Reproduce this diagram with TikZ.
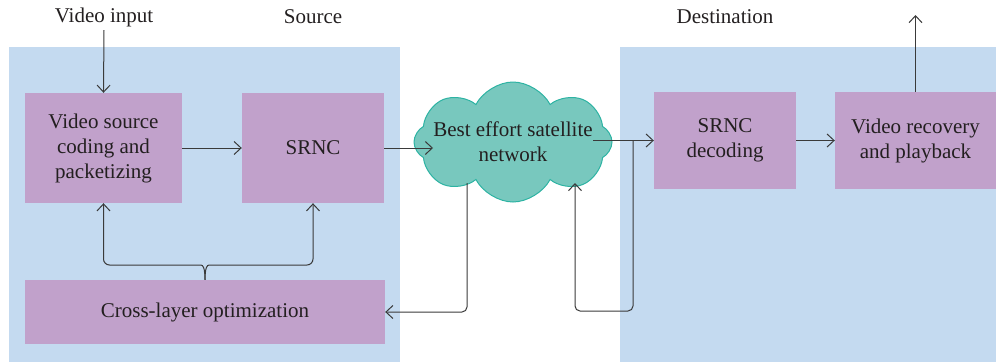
\documentclass[tikz,border=0pt]{standalone}
\usepackage{fontspec}
\setmainfont{Liberation Serif}
\usetikzlibrary{shapes.symbols,arrows.meta}
\definecolor{bgblue}{HTML}{C4DAF0}
\definecolor{boxpurple}{HTML}{C1A1CB}
\definecolor{cloudfill}{HTML}{78C8BE}
\definecolor{cloudline}{HTML}{2DB3A3}
\definecolor{linec}{HTML}{3A3A3A}
\definecolor{textc}{HTML}{231F20}
\begin{document}
\begin{tikzpicture}[x=1pt,y=-1pt,
  every node/.style={font=\fontsize{21}{25}\selectfont, text=textc},
  box/.style={fill=boxpurple, inner sep=0pt, align=center},
  arr/.style={draw=linec, line width=1pt, -{Straight Barb[length=7pt,width=13pt]}},
  cloudbox/.style={cloud, cloud puffs=8, cloud puff arc=125, aspect=1.65, fill=cloudfill, draw=cloudline, line width=1pt, inner sep=0pt, minimum width=198pt, minimum height=120pt},
]
\useasboundingbox (0,0) rectangle (996,362);
\fill[bgblue] (9,47) rectangle (400,362);
\fill[bgblue] (620,47) rectangle (996,362);

\node (vin) at (104,17) {Video input};
\node (src) at (313,17) {Source};
\node (dst) at (725,17) {Destination};

\node[box, minimum width=157pt, minimum height=110pt] (A) at (103.5,148) {Video source\\coding and\\packetizing};
\node[box, minimum width=142pt, minimum height=110pt] (S) at (313,148) {SRNC};
\node[box, minimum width=360pt, minimum height=64pt] (X) at (205,312) {Cross-layer optimization};
\node[box, minimum width=142pt, minimum height=97pt] (D) at (725,140.5) {SRNC\\decoding};
\node[box, minimum width=161pt, minimum height=97pt] (R) at (915.5,140.5) {Video recovery\\and playback};
\node[cloudbox] (C) at (513,142) {};
\node[align=center, inner sep=0pt] (CT) at (C.center) {Best effort satellite\\network};

\coordinate (bl) at (103.5,265);
\coordinate (br) at (313,265);
\coordinate (cin) at (433,148);
\coordinate (cout) at (593,140.5);
\coordinate (fb) at (633,140.5);
\coordinate (fbc) at (633,311);
\coordinate (fbin) at (575,183);
\coordinate (cdown) at (467,183);
\coordinate (vout) at (915.5,15);

\draw[arr] (vin.south) -- (A.north);
\draw[arr] (A.east) -- (S.west);
\draw[arr, rounded corners=6] (X.north) .. controls (205,268) and (203,265) .. (195,265) -- (bl) -- (A.south);
\draw[arr, rounded corners=6] (X.north) .. controls (205,268) and (207,265) .. (215,265) -- (br) -- (S.south);
\draw[arr] (S.east) -- (cin);
\draw[arr] (cout) -- (D.west);
\draw[arr] (D.east) -- (R.west);
\draw[arr] (R.north) -- (vout);
\draw[arr, rounded corners=5] (fb) -- (fbc) -| (fbin);
\draw[arr, rounded corners=5] (cdown) |- (X.east);
\end{tikzpicture}
\end{document}
